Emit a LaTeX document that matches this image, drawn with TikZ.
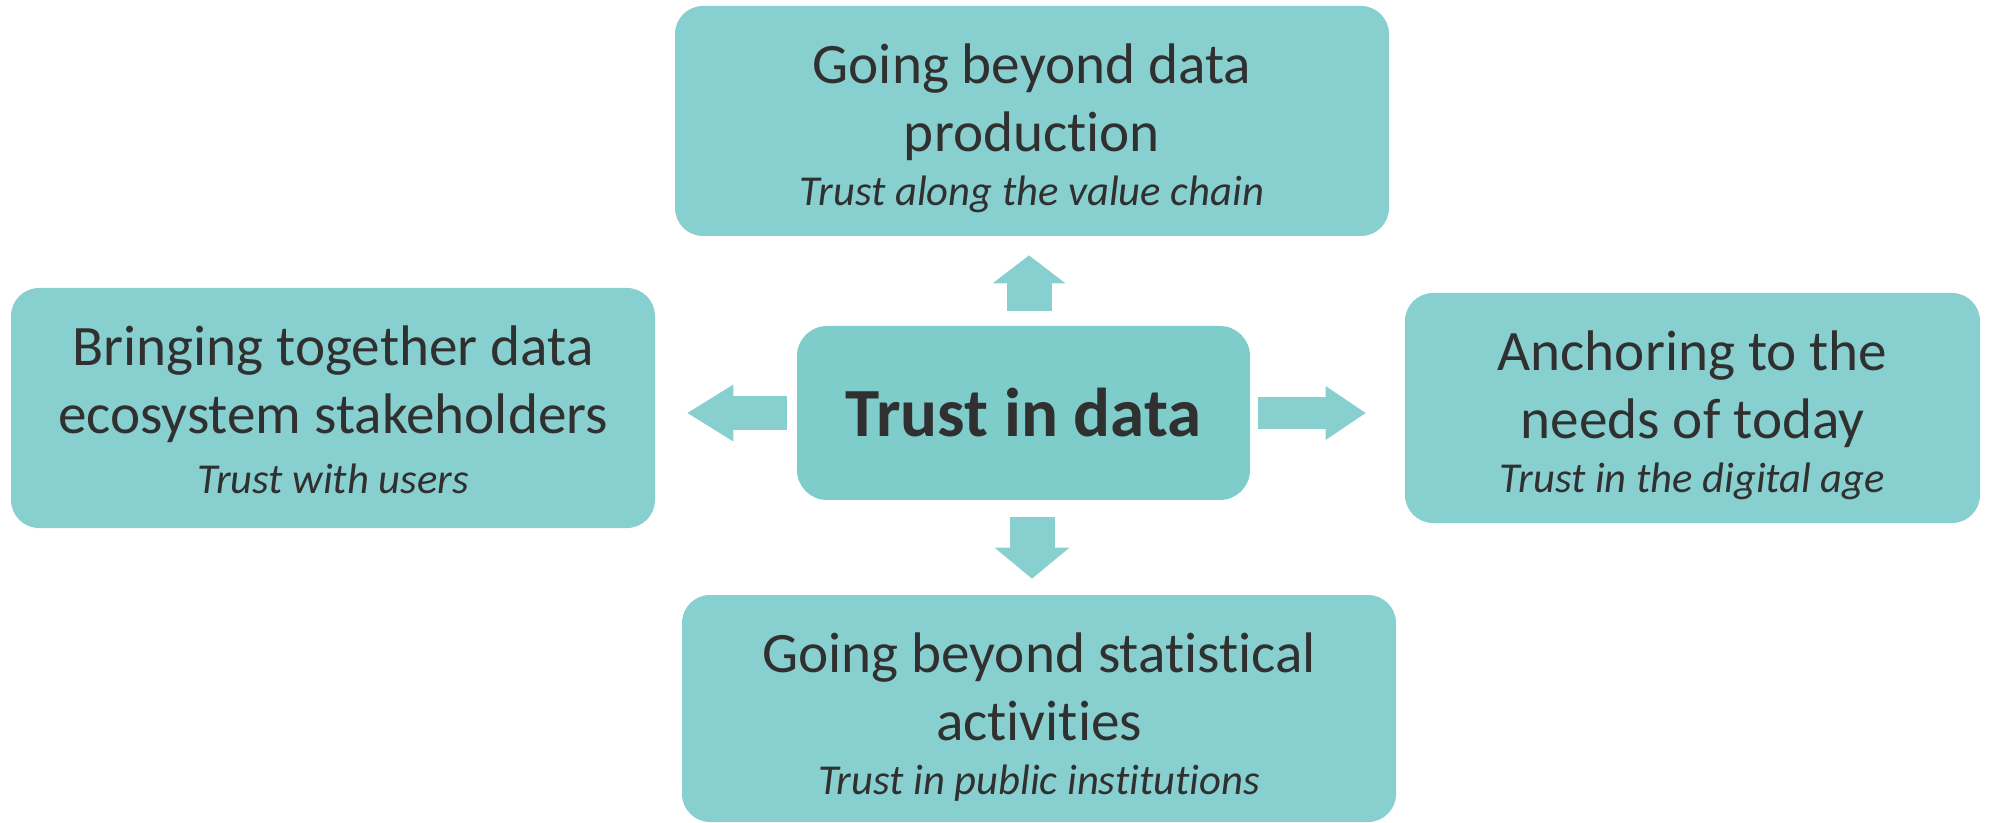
\documentclass[tikz,border=0pt]{standalone}
\usepackage{fontspec}
\setmainfont{Carlito}[Ligatures=NoCommon]
\usetikzlibrary{arrows.meta}
\definecolor{boxteal}{HTML}{88CFCF}
\definecolor{coreteal}{HTML}{7FCDCB}
\definecolor{inkgrey}{HTML}{303030}
\newcommand{\headroom}[1]{\rule{0pt}{#1}}
\newcommand{\tagline}[2][-7pt]{\\[#1]{\itshape\fontsize{21.3}{25}\selectfont #2}}

\begin{document}
\begin{tikzpicture}[x=0.5pt, y=-0.5pt,
    pillar/.style={fill=boxteal, rounded corners=14pt, inner sep=0pt, align=center,
        text=inkgrey, font=\fontsize{28.6}{34}\selectfont},
    hub/.style={fill=coreteal, rounded corners=15pt, inner sep=0pt, text=inkgrey,
        font=\bfseries\fontsize{34.5}{40}\selectfont,
        minimum width=226.5pt, minimum height=87pt},
    push/.style n args={3}{draw=boxteal, line width=#1,
        -{Triangle[width=#2, length=#3, line width=0pt]}}]
    % Fix the page.
    \useasboundingbox (0,0) rectangle (1992,823);
    % Place the four outer boxes.
    \node[pillar, minimum width=357pt, minimum height=115pt] (top) at (1032,121)
        {\headroom{27pt}Going beyond data\\production\tagline{Trust along the value chain}};
    \node[pillar, minimum width=322pt, minimum height=120pt] (left) at (333,408)
        {\headroom{22pt}Bringing together data\\ecosystem stakeholders\tagline[-4pt]{Trust with users}};
    \node[pillar, minimum width=287.5pt, minimum height=115pt] (right) at (1692.5,408)
        {\headroom{27pt}Anchoring to the\\needs of today\tagline{Trust in the digital age}};
    \node[pillar, minimum width=357pt, minimum height=113.5pt] (bottom) at (1039,708.5)
        {\headroom{28pt}Going beyond statistical\\activities\tagline{Trust in public institutions}};
    % Place the centre box.
    \node[hub] (core) at (1023.5,413) {Trust in data};
    % Draw the arrows.
    \draw[push={22.5pt}{36.5pt}{14pt}, shorten <=7.5pt, shorten >=9.5pt]
        ([xshift=2.75pt]core.north) -- ([xshift=2.75pt]core.north |- top.south);
    \draw[push={22.5pt}{37.5pt}{15.5pt}, shorten <=8.5pt, shorten >=8pt]
        ([xshift=4.25pt]core.south) -- ([xshift=4.25pt]core.south |- bottom.north);
    \draw[push={17pt}{28.5pt}{23pt}, shorten <=5pt, shorten >=16pt]
        (core.west) -- (core.west -| left.east);
    \draw[push={16pt}{27pt}{20pt}, shorten <=4pt, shorten >=19.5pt]
        (core.east) -- (core.east -| right.west);
\end{tikzpicture}
\end{document}
